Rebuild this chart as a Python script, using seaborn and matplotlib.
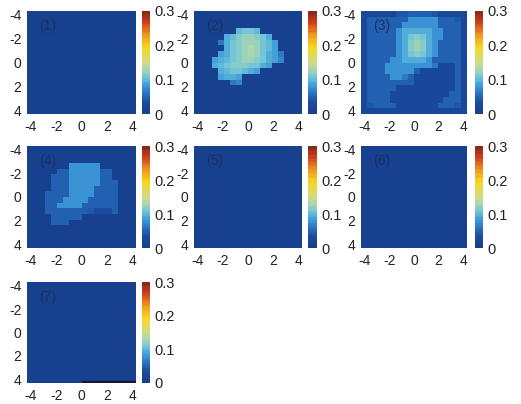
import numpy as np
import matplotlib
matplotlib.use("Agg")
import matplotlib.pyplot as plt
import seaborn as sns
from matplotlib.colors import LinearSegmentedColormap

# Values, 18 x 18 cells per panel, top row first
empty = np.zeros((18, 18))

panel2 = [
    [0]*18,
    [0]*18,
    [0]*18,
    [0,0,0,0,0,0,0,.10,.105,.105,.10,0,0,0,0,0,0,0],
    [0,0,0,0,0,.09,.10,.115,.12,.12,.115,.105,.09,0,0,0,0,0],
    [0,0,0,0,.06,.09,.105,.115,.12,.125,.12,.11,.10,.085,0,0,0,0],
    [0,0,0,0,0,.09,.105,.115,.125,.13,.125,.11,.10,.085,0,0,0,0],
    [0,0,0,0,.085,.09,.105,.115,.125,.13,.125,.11,.09,.085,.06,0,0,0],
    [0,0,0,.085,.095,.10,.11,.115,.12,.12,.115,.105,.09,.085,.07,0,0,0],
    [0,0,0,.09,.10,.11,.115,.115,.115,.11,.105,.09,.085,0,0,0,0,0],
    [0,0,0,0,.09,.10,.105,.105,.10,.09,.085,0,0,0,0,0,0,0],
    [0,0,0,0,.085,.09,.09,.085,0,0,0,0,0,0,0,0,0,0],
    [0,0,0,0,0,0,.06,.07,0,0,0,0,0,0,0,0,0,0],
    [0]*18,
    [0]*18,
    [0]*18,
    [0]*18,
    [0]*18,
]

panel3 = [
    [.025,.025,.025,.025,.025,.025,.04,.04,.05,.05,.05,.05,.04,.025,.025,.025,.025,.025],
    [.025,.05,.05,.05,.05,.05,.05,.05,.08,.08,.08,.08,.08,.05,.05,.05,.04,.025],
    [.025,.05,.05,.05,.05,.05,.05,.08,.08,.08,.08,.08,.08,.05,.05,.05,.05,.025],
    [.025,.05,.05,.05,.05,.05,.08,.095,.095,.095,.095,.095,.08,.08,.05,.05,.05,.025],
    [.025,.05,.05,.05,.05,.05,.08,.095,.11,.115,.11,.095,.08,.08,.05,.05,.05,.025],
    [.025,.05,.05,.05,.05,.05,.08,.095,.115,.12,.115,.095,.08,.05,.05,.05,.05,.025],
    [.025,.05,.05,.05,.05,.05,.08,.095,.115,.12,.115,.095,.08,.05,.05,.05,.05,.025],
    [.025,.05,.05,.05,.05,.05,.08,.095,.11,.115,.11,.095,.08,.05,.05,.05,.05,.025],
    [.025,.05,.05,.05,.05,.08,.08,.095,.095,.095,.095,.08,.05,.05,.05,.05,.05,.025],
    [.025,.05,.05,.05,.08,.08,.08,.08,.08,.08,.08,.08,.06,.025,.025,.025,.05,.025],
    [.025,.05,.05,.05,.08,.08,.08,.08,.08,.05,.025,.025,.025,.025,.025,.025,.05,.025],
    [.025,.05,.05,.05,.05,.08,.08,.06,.05,.025,.025,.025,.025,.025,.025,.025,.05,.025],
    [.025,.05,.05,.05,.05,.05,.05,.05,.05,.025,.025,.025,.025,.025,.025,.025,.05,.025],
    [.025,.05,.05,.05,.05,.05,.025,.025,.025,.025,.025,.025,.025,.025,.025,.025,.05,.025],
    [.025,.05,.05,.05,.05,.025,.025,.025,.025,.025,.025,.025,.025,.025,.025,.05,.05,.025],
    [.025,.05,.05,.05,.05,.025,.025,.025,.025,.025,.025,.025,.025,.025,.05,.05,.05,.025],
    [.025,.04,.05,.05,.05,.05,.025,.025,.025,.025,.025,.025,.025,.05,.05,.05,.04,.025],
    [.025,.025,.025,.025,.025,.025,.025,.025,.025,.025,.025,.025,.025,.025,.025,.025,.025,.025],
]

panel4 = [
    [0]*18,
    [0]*18,
    [0]*18,
    [0,0,0,0,0,0,0,.08,.08,.08,.08,.08,0,0,0,0,0,0],
    [0,0,0,0,0,.05,.05,.08,.08,.08,.08,.08,.05,.05,0,0,0,0],
    [0,0,0,0,.05,.05,.05,.08,.08,.08,.08,.08,.05,.05,0,0,0,0],
    [0,0,0,0,.05,.05,.05,.08,.08,.08,.08,.08,.05,.05,.05,0,0,0],
    [0,0,0,0,.05,.05,.05,.08,.08,.08,.08,.05,.05,.05,.05,0,0,0],
    [0,0,0,.05,.05,.05,.05,.08,.08,.08,.08,.05,.05,.05,.05,0,0,0],
    [0,0,0,.05,.05,.05,.08,.08,.08,.08,.05,.05,.05,.05,.05,0,0,0],
    [0,0,0,.05,.05,.08,.08,.08,.08,.05,.05,.05,.05,.05,.05,0,0,0],
    [0,0,0,.05,.05,.05,.05,.05,.05,.05,.04,.03,.03,.03,.05,0,0,0],
    [0,0,0,0,.05,.05,.05,.05,.05,0,0,0,0,0,0,0,0,0],
    [0,0,0,0,.05,.05,.05,0,0,0,0,0,0,0,0,0,0,0],
    [0]*18,
    [0]*18,
    [0]*18,
    [0]*18,
]

panels = [empty, panel2, panel3, panel4, empty, empty, empty]
panel_names = ["(1)", "(2)", "(3)", "(4)", "(5)", "(6)", "(7)"]
tick_vals = [-4, -2, 0, 2, 4]
cbar_ticks = [0, 0.1, 0.2, 0.3]
cbar_labels = ["0", "0.1", "0.2", "0.3"]

W, H = 521, 404
# left, right of the square and of the colour bar, in pixels
columns = [(27, 136, 142, 150), (194, 302, 308, 317), (361, 467, 475, 483)]
rows = [(11, 114), (146, 248), (282, 383)]
half_range = 4.3


def box(x0, x1, y0, y1):
    return [x0 / W, 1 - y1 / H, (x1 - x0) / W, (y1 - y0) / H]


def to_cell(v):
    return (v + half_range) / (2 * half_range) * 18


cmap = LinearSegmentedColormap.from_list(
    "blurred_jet",
    [(0.0, "#17408f"), (0.1, "#1a4a9e"), (0.17, "#2468b8"), (0.27, "#3d9ad8"),
     (0.35, "#6cc3dc"), (0.42, "#a5d5b5"), (0.5, "#cfdc85"), (0.65, "#f6d820"),
     (0.77, "#ef9a20"), (0.9, "#d03c1c"), (1.0, "#8a2a1a")],
    N=40,
)

plt.rcParams["font.family"] = ["Liberation Sans", "DejaVu Sans"]
fig = plt.figure(figsize=(W / 100, H / 100), dpi=100)

for i, data in enumerate(panels):
    x0, x1, c0, c1 = columns[i % 3]
    y0, y1 = rows[i // 3]
    ax = fig.add_axes(box(x0, x1, y0, y1))
    cax = fig.add_axes(box(c0, c1, y0, y1))
    sns.heatmap(np.array(data), ax=ax, cbar_ax=cax, vmin=0, vmax=0.3, cmap=cmap,
                xticklabels=False, yticklabels=False, cbar_kws={"ticks": cbar_ticks})
    ticks = [to_cell(v) for v in tick_vals]
    ax.set_xticks(ticks)
    ax.set_xticklabels(tick_vals)
    ax.set_yticks(ticks)
    ax.set_yticklabels(tick_vals, rotation=0)
    ax.tick_params(length=0, labelsize=10, colors="#222222", pad=4)
    cax.set_yticklabels(cbar_labels)
    cax.tick_params(length=0, labelsize=10.5, colors="#222222", pad=3)
    ax.text(0.11, 0.85, panel_names[i], transform=ax.transAxes, color="#1c2f66",
            fontsize=10, ha="left", va="center")
    if i == 6:
        # dark stroke along the lower edge of the last panel
        ax.hlines(17.9, to_cell(0), 18, color="#101830", linewidth=1.6)

fig.savefig("out.png", dpi=100)
